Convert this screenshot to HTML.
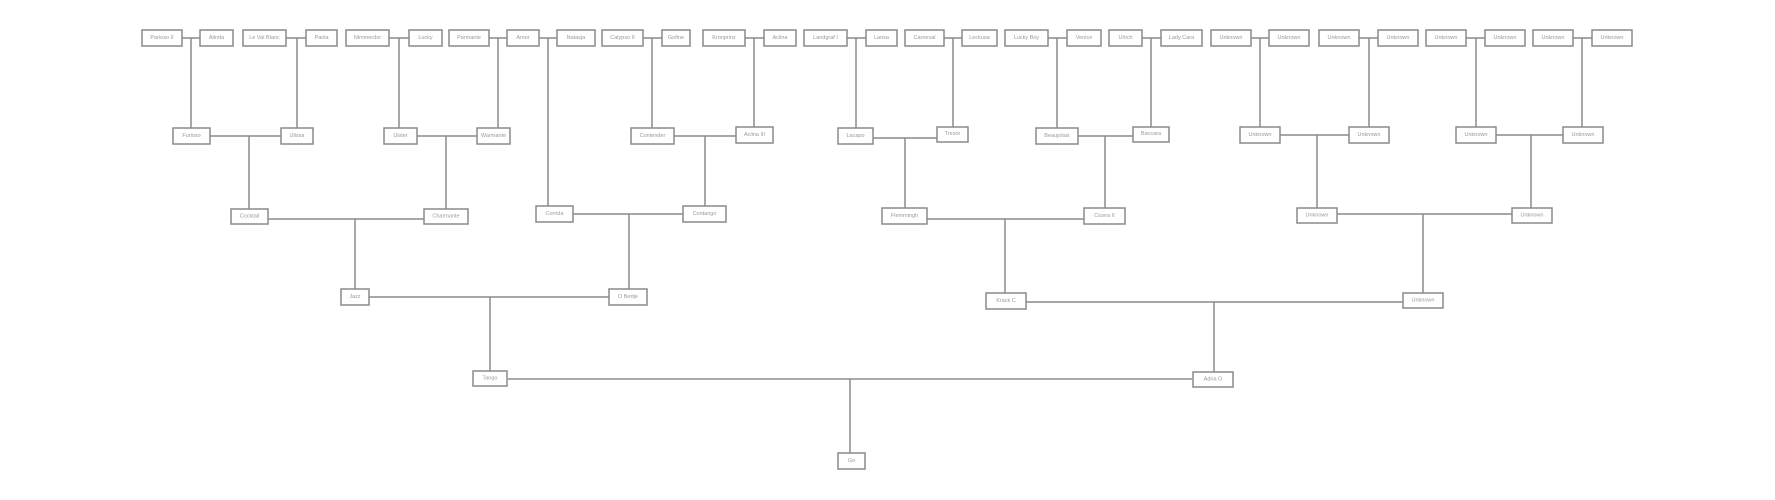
<!DOCTYPE html>
<html><head><meta charset="utf-8"><style>
html,body{margin:0;padding:0;background:#fff;}
svg{display:block;}
rect{fill:#fff;stroke:#8a8a8a;stroke-width:1.5;}
line{stroke:#8a8a8a;stroke-width:1.5;}
text{font-family:"Liberation Sans",sans-serif;font-size:5.5px;fill:#999;text-anchor:middle;dominant-baseline:central;}
</style></head><body>
<svg width="1775" height="500" viewBox="0 0 1775 500" xmlns="http://www.w3.org/2000/svg">
<g>
<rect x="142" y="30" width="40" height="16"/><text x="162" y="38">Parioso II</text>
<rect x="200" y="30" width="33" height="16"/><text x="216.5" y="38">Alinda</text>
<rect x="243" y="30" width="43" height="16"/><text x="264.5" y="38">Le Val Blanc</text>
<rect x="306" y="30" width="31" height="16"/><text x="321.5" y="38">Paola</text>
<rect x="346" y="30" width="43" height="16"/><text x="367.5" y="38">Nimmerdor</text>
<rect x="409" y="30" width="33" height="16"/><text x="425.5" y="38">Lucky</text>
<rect x="449" y="30" width="40" height="16"/><text x="469" y="38">Parmante</text>
<rect x="507" y="30" width="32" height="16"/><text x="523" y="38">Amor</text>
<rect x="557" y="30" width="38" height="16"/><text x="576" y="38">Natasja</text>
<rect x="602" y="30" width="41" height="16"/><text x="622.5" y="38">Calypso II</text>
<rect x="662" y="30" width="28" height="16"/><text x="676" y="38">Gofine</text>
<rect x="703" y="30" width="42" height="16"/><text x="724" y="38">Kronprinz</text>
<rect x="764" y="30" width="32" height="16"/><text x="780" y="38">Aclina</text>
<rect x="804" y="30" width="43" height="16"/><text x="825.5" y="38">Landgraf I</text>
<rect x="866" y="30" width="31" height="16"/><text x="881.5" y="38">Lansa</text>
<rect x="905" y="30" width="39" height="16"/><text x="924.5" y="38">Carneval</text>
<rect x="962" y="30" width="35" height="16"/><text x="979.5" y="38">Leckusa</text>
<rect x="1005" y="30" width="43" height="16"/><text x="1026.5" y="38">Lucky Boy</text>
<rect x="1067" y="30" width="34" height="16"/><text x="1084" y="38">Venice</text>
<rect x="1109" y="30" width="33" height="16"/><text x="1125.5" y="38">Ulrich</text>
<rect x="1161" y="30" width="41" height="16"/><text x="1181.5" y="38">Lady Cara</text>
<rect x="1211" y="30" width="40" height="16"/><text x="1231" y="38">Unknown</text>
<rect x="1269" y="30" width="40" height="16"/><text x="1289" y="38">Unknown</text>
<rect x="1319" y="30" width="40" height="16"/><text x="1339" y="38">Unknown</text>
<rect x="1378" y="30" width="40" height="16"/><text x="1398" y="38">Unknown</text>
<rect x="1426" y="30" width="40" height="16"/><text x="1446" y="38">Unknown</text>
<rect x="1485" y="30" width="40" height="16"/><text x="1505" y="38">Unknown</text>
<rect x="1533" y="30" width="40" height="16"/><text x="1553" y="38">Unknown</text>
<rect x="1592" y="30" width="40" height="16"/><text x="1612" y="38">Unknown</text>

<line x1="182" y1="38" x2="200" y2="38"/><line x1="191" y1="38" x2="191" y2="128"/>
<line x1="286" y1="38" x2="306" y2="38"/><line x1="297" y1="38" x2="297" y2="128"/>
<line x1="389" y1="38" x2="409" y2="38"/><line x1="399" y1="38" x2="399" y2="128"/>
<line x1="489" y1="38" x2="507" y2="38"/><line x1="498" y1="38" x2="498" y2="128"/>
<line x1="539" y1="38" x2="557" y2="38"/><line x1="548" y1="38" x2="548" y2="206"/>
<line x1="643" y1="38" x2="662" y2="38"/><line x1="652" y1="38" x2="652" y2="128"/>
<line x1="745" y1="38" x2="764" y2="38"/><line x1="754" y1="38" x2="754" y2="127"/>
<line x1="847" y1="38" x2="866" y2="38"/><line x1="856" y1="38" x2="856" y2="128"/>
<line x1="944" y1="38" x2="962" y2="38"/><line x1="953" y1="38" x2="953" y2="127"/>
<line x1="1048" y1="38" x2="1067" y2="38"/><line x1="1057" y1="38" x2="1057" y2="128"/>
<line x1="1142" y1="38" x2="1161" y2="38"/><line x1="1151" y1="38" x2="1151" y2="127"/>
<line x1="1251" y1="38" x2="1269" y2="38"/><line x1="1260" y1="38" x2="1260" y2="127"/>
<line x1="1359" y1="38" x2="1378" y2="38"/><line x1="1369" y1="38" x2="1369" y2="127"/>
<line x1="1466" y1="38" x2="1485" y2="38"/><line x1="1476" y1="38" x2="1476" y2="127"/>
<line x1="1573" y1="38" x2="1592" y2="38"/><line x1="1582" y1="38" x2="1582" y2="127"/>

<rect x="173" y="128" width="37" height="16"/><text x="191.5" y="136">Furioso</text>
<rect x="281" y="128" width="32" height="16"/><text x="297" y="136">Ulissa</text>
<rect x="384" y="128" width="33" height="16"/><text x="400.5" y="136">Ulster</text>
<rect x="477" y="128" width="33" height="16"/><text x="493.5" y="136">Warmante</text>
<rect x="631" y="128" width="43" height="16"/><text x="652.5" y="136">Contender</text>
<rect x="736" y="127" width="37" height="16"/><text x="754.5" y="135">Aclina III</text>
<rect x="838" y="128" width="35" height="16"/><text x="855.5" y="136">Lacapo</text>
<rect x="937" y="127" width="31" height="15"/><text x="952.5" y="134">Tresor</text>
<rect x="1036" y="128" width="42" height="16"/><text x="1057" y="136">Beaujolais</text>
<rect x="1133" y="127" width="36" height="15"/><text x="1151" y="134">Baccara</text>
<rect x="1240" y="127" width="40" height="16"/><text x="1260" y="135">Unknown</text>
<rect x="1349" y="127" width="40" height="16"/><text x="1369" y="135">Unknown</text>
<rect x="1456" y="127" width="40" height="16"/><text x="1476" y="135">Unknown</text>
<rect x="1563" y="127" width="40" height="16"/><text x="1583" y="135">Unknown</text>

<line x1="210" y1="136" x2="281" y2="136"/><line x1="249" y1="136" x2="249" y2="209"/>
<line x1="417" y1="136" x2="477" y2="136"/><line x1="446" y1="136" x2="446" y2="209"/>
<line x1="674" y1="136" x2="736" y2="136"/><line x1="705" y1="136" x2="705" y2="206"/>
<line x1="873" y1="138" x2="937" y2="138"/><line x1="905" y1="138" x2="905" y2="208"/>
<line x1="1078" y1="136" x2="1133" y2="136"/><line x1="1105" y1="136" x2="1105" y2="208"/>
<line x1="1280" y1="135" x2="1349" y2="135"/><line x1="1317" y1="135" x2="1317" y2="208"/>
<line x1="1496" y1="135" x2="1563" y2="135"/><line x1="1531" y1="135" x2="1531" y2="208"/>

<rect x="231" y="209" width="37" height="15"/><text x="249.5" y="216.5">Cocktail</text>
<rect x="424" y="209" width="44" height="15"/><text x="446" y="216.5">Charmante</text>
<rect x="536" y="206" width="37" height="16"/><text x="554.5" y="214">Corrida</text>
<rect x="683" y="206" width="43" height="16"/><text x="704.5" y="214">Contango</text>
<rect x="882" y="208" width="45" height="16"/><text x="904.5" y="216">Flemmingh</text>
<rect x="1084" y="208" width="41" height="16"/><text x="1104.5" y="216">Cicera II</text>
<rect x="1297" y="208" width="40" height="15"/><text x="1317" y="215.5">Unknown</text>
<rect x="1512" y="208" width="40" height="15"/><text x="1532" y="215.5">Unknown</text>

<line x1="268" y1="219" x2="424" y2="219"/><line x1="355" y1="219" x2="355" y2="289"/>
<line x1="573" y1="214" x2="683" y2="214"/><line x1="629" y1="214" x2="629" y2="289"/>
<line x1="927" y1="219" x2="1084" y2="219"/><line x1="1005" y1="219" x2="1005" y2="293"/>
<line x1="1337" y1="214" x2="1512" y2="214"/><line x1="1423" y1="214" x2="1423" y2="293"/>

<rect x="341" y="289" width="28" height="16"/><text x="355" y="297">Jazz</text>
<rect x="609" y="289" width="38" height="16"/><text x="628" y="297">O Bertje</text>
<rect x="986" y="293" width="40" height="16"/><text x="1006" y="301">Krack C</text>
<rect x="1403" y="293" width="40" height="15"/><text x="1423" y="300.5">Unknown</text>

<line x1="369" y1="297" x2="609" y2="297"/><line x1="490" y1="297" x2="490" y2="371"/>
<line x1="1026" y1="302" x2="1403" y2="302"/><line x1="1214" y1="302" x2="1214" y2="372"/>

<rect x="473" y="371" width="34" height="15"/><text x="490" y="378.5">Tango</text>
<rect x="1193" y="372" width="40" height="15"/><text x="1213" y="379.5">Adria O</text>
<line x1="507" y1="379" x2="1193" y2="379" style="stroke:#aaa;stroke-width:2"/>
<line x1="850" y1="379" x2="850" y2="453"/>

<rect x="838" y="453" width="27" height="16"/><text x="851.5" y="461">Go</text>
</g>
</svg>
</body></html>
